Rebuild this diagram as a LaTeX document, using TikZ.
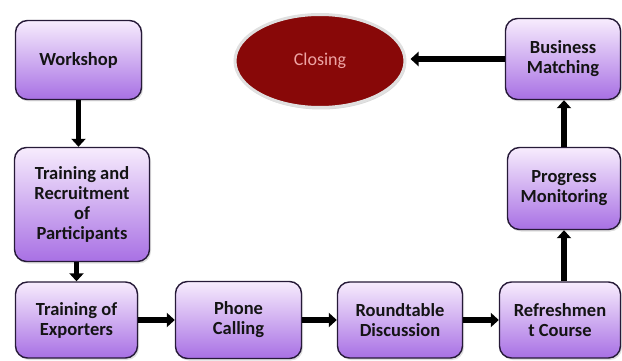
\documentclass[tikz,border=0pt]{standalone}
\usepackage{fontspec}
\setmainfont{Carlito}
\usetikzlibrary{arrows.meta,shapes.geometric,shadows}
\definecolor{boxtop}{RGB}{247,236,253}
\definecolor{boxbottom}{RGB}{168,112,228}
\definecolor{boxline}{RGB}{38,26,56}
\definecolor{closered}{RGB}{136,8,8}
\definecolor{closetext}{RGB}{238,164,164}
\tikzset{
stepbox/.style={draw=boxline,line width=1.4pt,rounded corners=12pt,top color=boxtop,bottom color=boxbottom,
  align=center,font=\fontsize{18.5}{20}\selectfont\bfseries,text=black!92,inner sep=2pt,
  drop shadow={opacity=0.25,shadow xshift=1.5pt,shadow yshift=-2pt}},
endbox/.style={ellipse,draw=black!12,line width=3pt,fill=closered,text=closetext,
  font=\fontsize{18}{20}\selectfont,drop shadow={opacity=0.3,shadow xshift=1pt,shadow yshift=-2pt}},
flow/.style={line width=5.5pt,-{Triangle[length=8pt,width=14pt]}}
}
\providecommand{\Step}[5]{
\node[stepbox,minimum width=#3,minimum height=#4] (#1) at (#2) {#5};
}

\begin{document}
\begin{tikzpicture}[x=1pt,y=-1pt]
\useasboundingbox (0,0) rectangle (622,361);
\Step{workshop}{78.5,60}{126}{79}{Workshop}
\Step{train}{82,204.5}{135}{114}{Training and\\Recruitment\\of\\Participants}
\Step{exporters}{76.5,320}{122}{76}{Training of\\Exporters}
\Step{phone}{238.5,320}{126}{77}{Phone\\Calling}
\Step{roundtable}{400,320}{125}{76}{Roundtable\\Discussion}
\Step{refresh}{560,320}{121}{76}{Refreshmen\\t Course}
\Step{progress}{564,188.5}{113}{82}{Progress\\Monitoring}
\Step{business}{563,59}{115}{81}{Business\\Matching}
\node[endbox,minimum width=170,minimum height=93] (closing) at (320,61) {Closing};
\draw[flow] (workshop.south) -- (workshop.south |- train.north);
\draw[flow] (train.south -| exporters.north) -- (exporters.north);
\draw[flow] (exporters) -- (phone);
\draw[flow] (phone) -- (roundtable);
\draw[flow] (roundtable) -- (refresh);
\draw[flow] (refresh.north -| progress.south) -- (progress.south);
\draw[flow] (progress.north) -- (progress.north |- business.south);
\draw[flow,shorten >=4pt] (business.west) -- (closing.east |- business.west);
\end{tikzpicture}
\end{document}
